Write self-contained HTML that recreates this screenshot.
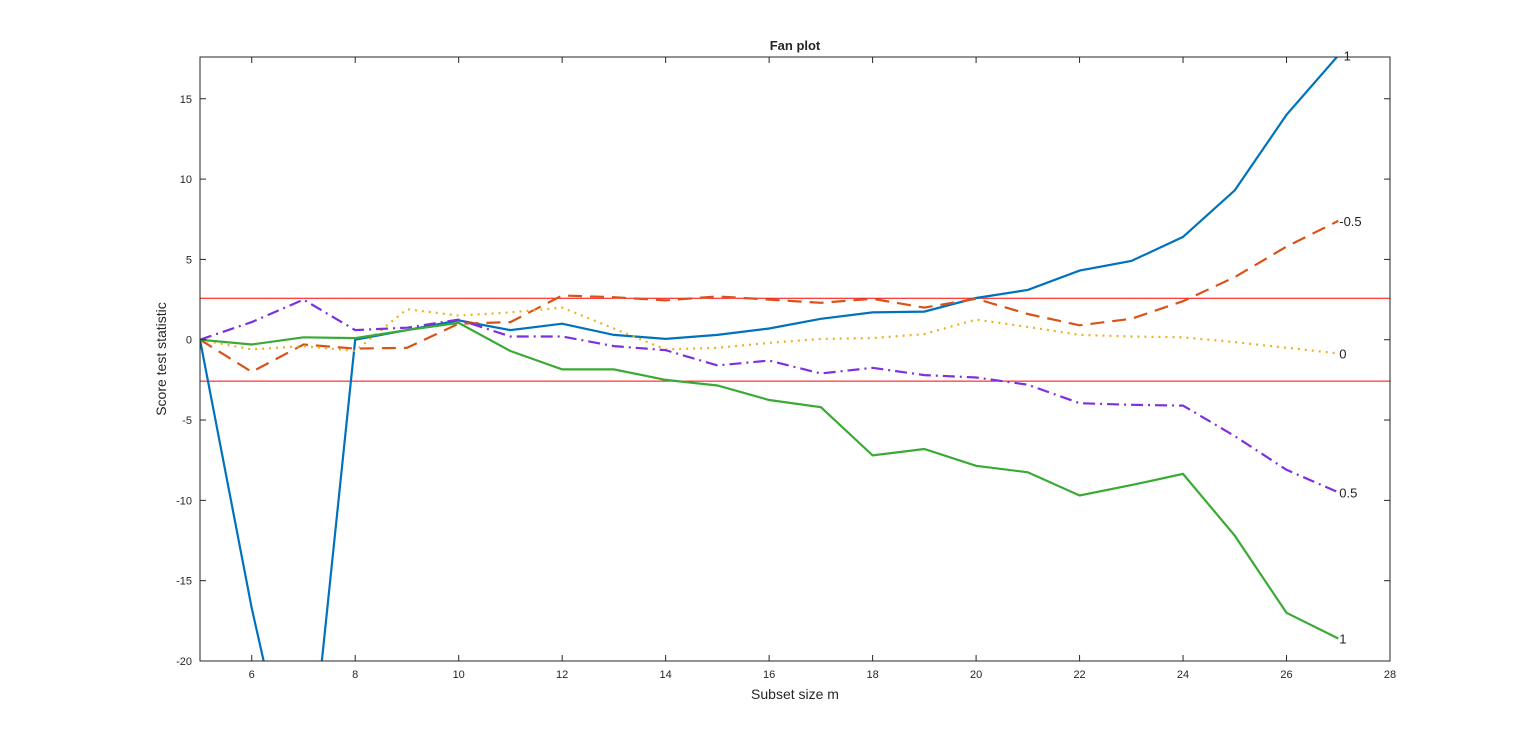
<!DOCTYPE html>
<html><head><meta charset="utf-8"><style>
html,body{margin:0;padding:0;background:#fff;width:1536px;height:744px;overflow:hidden;}
svg{display:block;font-family:"Liberation Sans",sans-serif;}
</style></head><body>
<svg id="chart" width="1536" height="744" viewBox="0 0 1536 744" xmlns="http://www.w3.org/2000/svg">
<rect width="1536" height="744" fill="#fff"/>
<g id="grid"></g>
<g id="series"></g>
<g id="axes"></g>
</svg>
<script>
const xs=[5,6,7,8,9,10,11,12,13,14,15,16,17,18,19,20,21,22,23,24,25,26,27];
const sLm1=[0,-16.7,-31,0,0.6,1.2,0.6,1.0,0.3,0.05,0.3,0.7,1.3,1.7,1.75,2.6,3.1,4.3,4.9,6.4,9.3,14,17.7];
const sLm05=[0,-2,-0.3,-0.55,-0.5,1.0,1.1,2.75,2.65,2.45,2.7,2.5,2.3,2.55,2.0,2.55,1.6,0.9,1.3,2.4,3.9,5.8,7.4];
const sL0=[0,-0.6,-0.4,-0.7,1.9,1.5,1.7,2.0,0.7,-0.6,-0.5,-0.2,0.05,0.1,0.35,1.25,0.8,0.3,0.2,0.15,-0.15,-0.5,-0.85];
const sL05=[0,1.1,2.5,0.6,0.75,1.25,0.2,0.2,-0.4,-0.65,-1.6,-1.3,-2.1,-1.75,-2.2,-2.35,-2.8,-3.95,-4.05,-4.1,-6,-8.1,-9.5];
const sL1=[0,-0.3,0.15,0.1,0.6,1.05,-0.7,-1.85,-1.85,-2.5,-2.85,-3.75,-4.2,-7.2,-6.8,-7.85,-8.25,-9.7,-9.05,-8.35,-12.2,-17,-18.6];
const labels=["-1","-0.5","0","0.5","1"];
const xTicks=[6,8,10,12,14,16,18,20,22,24,26,28];
const yTicks=[-20,-15,-10,-5,0,5,10,15];
const band=[2.58,-2.58];

const L=200,R=1390,T=57,B=661,xmin=5,xmax=28,ymin=-20,ymax=17.6;
const X=v=>L+(v-xmin)/(xmax-xmin)*(R-L);
const Y=v=>B-(v-ymin)/(ymax-ymin)*(B-T);
const NS="http://www.w3.org/2000/svg";
function mk(tag,attrs,parent){const e=document.createElementNS(NS,tag);for(const k in attrs)e.setAttribute(k,attrs[k]);parent.appendChild(e);return e;}
const svg=document.getElementById('chart');
svg.insertAdjacentHTML('beforeend','<defs><clipPath id="pc"><rect x="200" y="57" width="1190" height="604"/></clipPath></defs>');
const gs=document.getElementById('series');gs.setAttribute('clip-path','url(#pc)');
const ax=document.getElementById('axes');

band.forEach((b,i)=>{const l=mk('line',{x1:L,x2:R,y1:Y(b),y2:Y(b),stroke:'#ff0000','stroke-width':1},gs);

});

const series=[[sLm1,'#0072bd','',2.2],[sLm05,'#d95319','14,8',2.2],[sL0,'#edb120','2,5',2.2],[sL05,'#7e2fdf','12,5,2,5',2.2],[sL1,'#3aaa35','',2.2]];
series.forEach((s,i)=>{
 const d=s[0].map((v,j)=>(j?'L':'M')+X(xs[j]).toFixed(1)+','+Y(v).toFixed(1)).join('');
 const p=mk('path',{d:d,fill:'none',stroke:s[1],'stroke-width':s[3],'stroke-dasharray':s[2]},gs);
 
 
 const n=s[0].length-1;
 const t=mk('text',{x:X(xs[n])+1,y:Y(s[0][n])+5,'font-size':13,fill:'#222'},ax);
 t.textContent=labels[i];
 
 
});

const fr=mk('rect',{x:L,y:T,width:R-L,height:B-T,fill:'none',stroke:'#262626','stroke-width':1},ax);


xTicks.forEach(v=>{const x=X(v);
 mk('line',{x1:x,x2:x,y1:B,y2:B-6,stroke:'#262626'},ax);mk('line',{x1:x,x2:x,y1:T,y2:T+6,stroke:'#262626'},ax);
 const t=mk('text',{x:x,y:B+17,'font-size':11,'text-anchor':'middle',fill:'#262626'},ax);t.textContent=v;
 
 });
yTicks.forEach(v=>{const y=Y(v);
 mk('line',{x1:L,x2:L+6,y1:y,y2:y,stroke:'#262626'},ax);mk('line',{x1:R,x2:R-6,y1:y,y2:y,stroke:'#262626'},ax);
 const t=mk('text',{x:L-8,y:y+4,'font-size':11,'text-anchor':'end',fill:'#262626'},ax);t.textContent=v;
 
 });
let t=mk('text',{x:795,y:699,'font-size':14,'text-anchor':'middle',fill:'#262626'},ax);t.textContent='Subset size m';


t=mk('text',{x:0,y:0,'font-size':14,'text-anchor':'middle',fill:'#262626',transform:'translate(166,359) rotate(-90)'},ax);t.textContent='Score test statistic';


t=mk('text',{x:795,y:50,'font-size':13,'font-weight':'bold','text-anchor':'middle',fill:'#262626'},ax);t.textContent='Fan plot';


</script>
</body></html>
